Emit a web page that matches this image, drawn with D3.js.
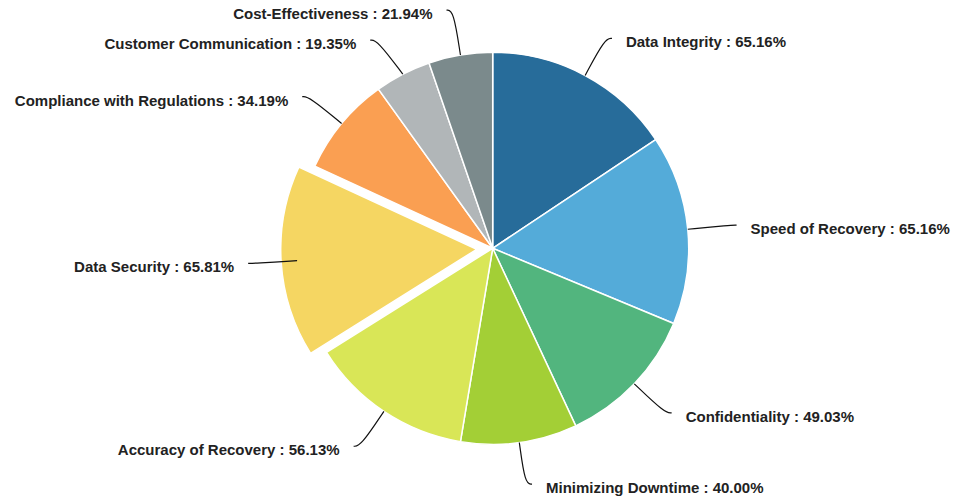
<!DOCTYPE html>
<html>
<head>
<meta charset="utf-8">
<script src="https://cdn.jsdelivr.net/npm/d3@7"></script>
<style>
  body { margin: 0; background: #fff; }
  text { font-family: "Liberation Sans", Arial, sans-serif; font-weight: bold; font-size: 15px; fill: #222; }
</style>
</head>
<body>
<script>
const width = 954, height = 503;

// data
const categories = ["Data Integrity", "Speed of Recovery", "Confidentiality", "Minimizing Downtime",
  "Accuracy of Recovery", "Data Security", "Compliance with Regulations", "Customer Communication", "Cost-Effectiveness"];
const values = [65.16, 65.16, 49.03, 40.00, 56.13, 65.81, 34.19, 19.35, 21.94];
const colors = ["#276c9a", "#54abd9", "#52b57e", "#a3cf36", "#d9e657", "#f5d662", "#fa9f52", "#b1b6b8", "#7b8a8c"];
const exploded = ["Data Security"];

const cx = 492.7, cy = 248.3, radius = 196;
const explodeDist = 16;
const line1 = 42, line2 = 7, textGap = 14;

const svg = d3.select("body").append("svg")
  .attr("width", width)
  .attr("height", height);

const g = svg.append("g").attr("transform", `translate(${cx},${cy})`);

const data = categories.map((c, i) => ({name: c, value: values[i], color: colors[i]}));

const pie = d3.pie().sort(null).value(d => d.value);
const arcs = pie(data);
const arc = d3.arc().innerRadius(0).outerRadius(radius);

const offset = d => {
  if (!exploded.includes(d.data.name)) return [0, 0];
  const a = (d.startAngle + d.endAngle) / 2;
  return [Math.sin(a) * explodeDist, -Math.cos(a) * explodeDist];
};

// slices
g.selectAll(".slice")
  .data(arcs)
  .enter().append("path")
  .attr("class", "slice")
  .attr("transform", d => `translate(${offset(d)})`)
  .attr("d", arc)
  .attr("fill", d => d.data.color)
  .attr("stroke", "#fff")
  .attr("stroke-width", 1.5);

// label layout
const labels = arcs.map(d => {
  const a = (d.startAngle + d.endAngle) / 2;
  const sx = Math.sin(a), sy = -Math.cos(a);
  const right = sx >= 0;
  const p0 = [sx * radius, sy * radius];
  const p1 = [sx * (radius + line1), sy * (radius + line1)];
  return {d, right, p0, p1, y: p1[1], origX: p1[0]};
});

// push apart labels on each side that are too close
[true, false].forEach(side => {
  const list = labels.filter(l => l.right === side).sort((a, b) => a.y - b.y);
  const minGap = 30;
  for (let iter = 0; iter < 20; iter++) {
    for (let i = 1; i < list.length; i++) {
      const gap = list[i].y - list[i - 1].y;
      if (gap < minGap) {
        const push = (minGap - gap) / 2;
        list[i - 1].y -= push;
        list[i].y += push;
      }
    }
  }
  const r1 = radius + line1;
  list.forEach(l => {
    if (l.y !== l.p1[1]) {
      const dy2 = l.y * l.y;
      const nx = dy2 < r1 * r1 ? Math.sqrt(r1 * r1 - dy2) : 0;
      l.p1 = [side ? Math.max(l.origX, nx) : Math.min(l.origX, -nx), l.y];
    }
  });
});

labels.forEach(l => {
  l.p2 = [l.p1[0] + (l.right ? line2 : -line2), l.p1[1]];
});

const lineGen = d3.line().curve(d3.curveBasis);

g.selectAll(".label-line")
  .data(labels)
  .enter().append("path")
  .attr("class", "label-line")
  .attr("d", l => lineGen([l.p0, l.p1, l.p2]))
  .attr("fill", "none")
  .attr("stroke", "#111")
  .attr("stroke-width", 1.2);

g.selectAll(".label")
  .data(labels)
  .enter().append("text")
  .attr("class", "label")
  .attr("x", l => l.p2[0] + (l.right ? textGap : -textGap))
  .attr("y", l => l.p2[1] + 9)
  .attr("text-anchor", l => l.right ? "start" : "end")
  .text(l => `${l.d.data.name} : ${l.d.data.value.toFixed(2)}%`);
</script>
</body>
</html>
